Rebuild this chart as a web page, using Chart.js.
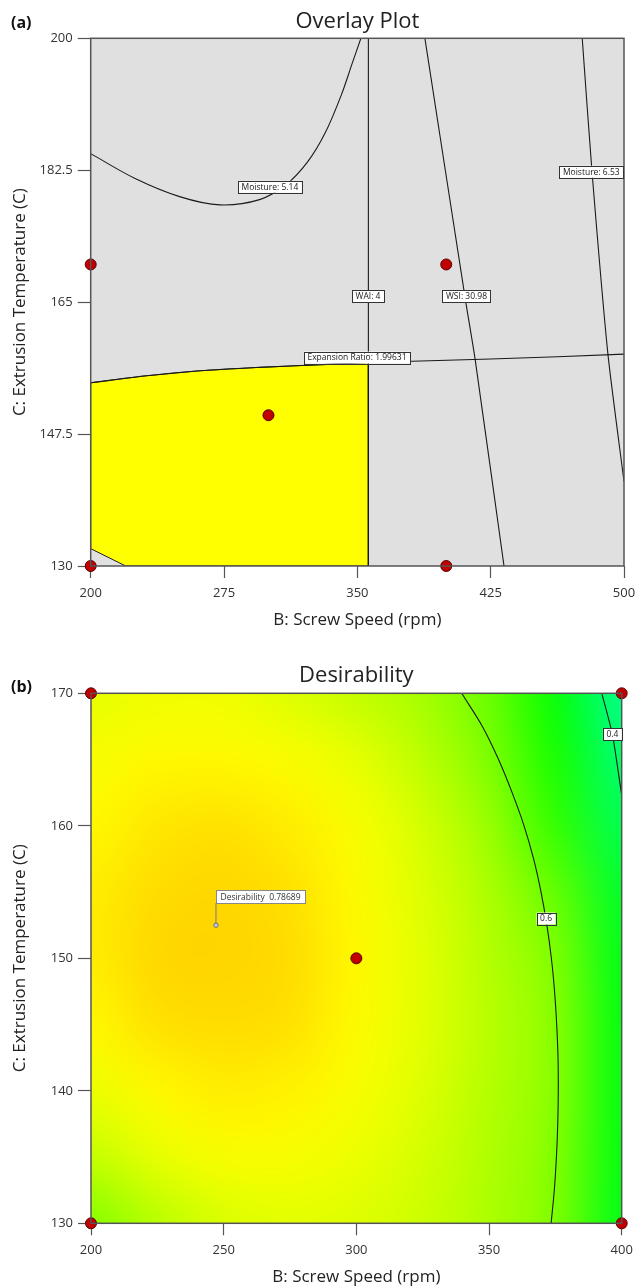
<!DOCTYPE html>
<html>
<head>
<meta charset="utf-8">
<script src="https://cdn.jsdelivr.net/npm/chart.js@4.4.1/dist/chart.umd.min.js"></script>
<style>
    body { margin: 0; background: #fff; width: 636px; height: 1287px; position: relative; overflow: hidden; }
    .panel { position: absolute; left: 0; width: 636px; }
    #overlayWrap { top: 0; height: 630px; }
    #desireWrap { top: 630px; height: 657px; }
</style>
</head>
<body>
<div class="panel" id="overlayWrap"><canvas id="overlayChart" width="636" height="630"></canvas></div>
<div class="panel" id="desireWrap"><canvas id="desireChart" width="636" height="657"></canvas></div>
<script>
// ---- (a) Overlay plot data ----
const overlayXTicks = [200, 275, 350, 425, 500];
const overlayYTicks = [130, 147.5, 165, 182.5, 200];
const designPointsA = [
    { x: 200, y: 170 }, { x: 400, y: 170 }, { x: 300, y: 150 }, { x: 200, y: 130 }, { x: 400, y: 130 }
];
const moisture514 = [
    { x: 200, y: 184.7 }, { x: 225, y: 181.4 }, { x: 250, y: 179.0 }, { x: 272.7, y: 177.9 },
    { x: 295, y: 178.6 }, { x: 310, y: 180.6 }, { x: 322, y: 183.6 }, { x: 332, y: 187.5 },
    { x: 341, y: 192.5 }, { x: 347, y: 196.6 }, { x: 352, y: 200 }
];
const moisture653 = [
    { x: 476.5, y: 200 }, { x: 482, y: 182.3 }, { x: 491, y: 158 }, { x: 500, y: 141.2 }
];
const wai4 = [{ x: 356.2, y: 200 }, { x: 356.2, y: 130 }];
const wsi3098 = [
    { x: 388, y: 200 }, { x: 411, y: 165 }, { x: 416.2, y: 157.5 }, { x: 432.5, y: 130 }
];
const expansionRatio = [
    { x: 200, y: 154.3 }, { x: 230, y: 155.2 }, { x: 261.6, y: 155.9 }, { x: 295, y: 156.35 },
    { x: 329, y: 156.7 }, { x: 356.2, y: 157.0 }, { x: 425, y: 157.45 }, { x: 500, y: 158.1 }
];
const sweetSpot = [
    { x: 200, y: 154.3 }, { x: 230, y: 155.2 }, { x: 261.6, y: 155.9 }, { x: 295, y: 156.35 },
    { x: 329, y: 156.7 }, { x: 356.2, y: 157.0 }, { x: 356.2, y: 130 }, { x: 219.7, y: 130 },
    { x: 200, y: 132.3 }, { x: 200, y: 154.3 }
];
const overlayLabels = [
    { text: 'Moisture: 5.14', x: 300.8, y: 180.3 },
    { text: 'Moisture: 6.53', x: 481.6, y: 182.3 },
    { text: 'WAI: 4', x: 356.0, y: 165.8 },
    { text: 'WSI: 30.98', x: 411.4, y: 165.8 },
    { text: 'Expansion Ratio: 1.99631', x: 349.8, y: 157.65 }
];

// ---- (b) Desirability data ----
const desireXTicks = [200, 250, 300, 350, 400];
const desireYTicks = [130, 140, 150, 160, 170];
const designPointsB = [
    { x: 200, y: 170 }, { x: 400, y: 170 }, { x: 300, y: 150 }, { x: 200, y: 130 }, { x: 400, y: 130 }
];
const heatX = [200, 225, 250, 275, 300, 325, 350, 375, 400];
const heatY = [170, 165, 160, 155, 150, 145, 140, 135, 130];
const desirabilityGrid = [
    [0.72, 0.73, 0.73, 0.71, 0.68, 0.64, 0.58, 0.50, 0.36],
    [0.74, 0.755, 0.755, 0.745, 0.72, 0.67, 0.594, 0.52, 0.39],
    [0.755, 0.77, 0.775, 0.765, 0.74, 0.70, 0.625, 0.54, 0.42],
    [0.765, 0.78, 0.785, 0.775, 0.75, 0.71, 0.65, 0.575, 0.46],
    [0.765, 0.785, 0.787, 0.78, 0.755, 0.715, 0.66, 0.595, 0.48],
    [0.755, 0.775, 0.78, 0.775, 0.75, 0.715, 0.665, 0.603, 0.49],
    [0.725, 0.755, 0.765, 0.76, 0.74, 0.71, 0.66, 0.602, 0.49],
    [0.68, 0.72, 0.74, 0.74, 0.725, 0.70, 0.655, 0.597, 0.49],
    [0.60, 0.665, 0.705, 0.715, 0.71, 0.69, 0.65, 0.595, 0.48]
];
const contour06 = [
    { x: 339.7, y: 170 }, { x: 347.5, y: 167.5 }, { x: 353.6, y: 165 }, { x: 358.7, y: 162.5 },
    { x: 363.2, y: 160 }, { x: 366.8, y: 157.5 }, { x: 369.6, y: 155 }, { x: 371.8, y: 152.5 },
    { x: 373.5, y: 150 }, { x: 374.7, y: 147.5 }, { x: 375.5, y: 145 }, { x: 376.0, y: 142.5 },
    { x: 376.1, y: 140 }, { x: 375.9, y: 137.5 }, { x: 375.4, y: 135 }, { x: 374.6, y: 132.5 },
    { x: 373.4, y: 130 }
];
const contour04 = [{ x: 392.5, y: 170 }, { x: 396.5, y: 166.9 }, { x: 400, y: 162.3 }];
const desireLabels = [
    { text: '0.6', x: 371.5, y: 153.0 },
    { text: '0.4', x: 396.5, y: 166.9 }
];
const optimumPoint = { x: 247.1, y: 152.5, text: 'Desirability  0.78689' };

// colour ramp used by the desirability surface
const colorStops = [
    [0.34, [0, 255, 160]], [0.40, [0, 255, 100]], [0.48, [0, 255, 24]], [0.51, [10, 255, 0]],
    [0.55, [64, 255, 0]], [0.60, [134, 255, 0]], [0.66, [180, 255, 0]], [0.70, [212, 255, 0]],
    [0.735, [245, 255, 0]], [0.755, [255, 248, 0]], [0.775, [255, 225, 0]], [0.79, [255, 210, 0]]
];

const FONT = "'Open Sans', 'Noto Sans', sans-serif";
const AXIS_COLOR = '#555';

function rampColor(v) {
    if (v <= colorStops[0][0]) return colorStops[0][1];
    for (let i = 1; i < colorStops.length; i++) {
        if (v <= colorStops[i][0]) {
            const [v0, c0] = colorStops[i - 1];
            const [v1, c1] = colorStops[i];
            const t = (v - v0) / (v1 - v0);
            return c0.map((c, k) => Math.round(c + (c1[k] - c) * t));
        }
    }
    return colorStops[colorStops.length - 1][1];
}

function drawTag(ctx, text, cx, cy) {
    ctx.save();
    ctx.font = '8.5px ' + FONT;
    const w = ctx.measureText(text).width + 7;
    const h = 12;
    ctx.fillStyle = '#fff';
    ctx.fillRect(cx - w / 2, cy - h / 2, w, h);
    ctx.strokeStyle = '#333';
    ctx.lineWidth = 1;
    ctx.strokeRect(Math.round(cx - w / 2) + 0.5, Math.round(cy - h / 2) + 0.5, Math.round(w), h);
    ctx.fillStyle = '#1a1a1a';
    ctx.textAlign = 'center';
    ctx.textBaseline = 'middle';
    ctx.fillText(text, cx, cy + 0.5);
    ctx.restore();
}

// Titles, frame, background and labels
const panelDecor = {
    id: 'panelDecor',
    beforeDatasetsDraw(chart, args, opts) {
        const { ctx, chartArea: a, scales } = chart;
        ctx.save();
        if (opts.heat) {
            const off = document.createElement('canvas');
            off.width = heatX.length;
            off.height = heatY.length;
            const octx = off.getContext('2d');
            const img = octx.createImageData(off.width, off.height);
            desirabilityGrid.forEach((row, j) => {
                row.forEach((v, i) => {
                    const c = rampColor(v);
                    const p = (j * off.width + i) * 4;
                    img.data[p] = c[0]; img.data[p + 1] = c[1]; img.data[p + 2] = c[2]; img.data[p + 3] = 255;
                });
            });
            octx.putImageData(img, 0, 0);
            const x0 = scales.x.getPixelForValue(heatX[0]);
            const x1 = scales.x.getPixelForValue(heatX[heatX.length - 1]);
            const y0 = scales.y.getPixelForValue(heatY[0]);
            const y1 = scales.y.getPixelForValue(heatY[heatY.length - 1]);
            const cw = (x1 - x0) / (heatX.length - 1);
            const ch = (y1 - y0) / (heatY.length - 1);
            ctx.beginPath();
            ctx.rect(a.left, a.top, a.right - a.left, a.bottom - a.top);
            ctx.clip();
            ctx.imageSmoothingEnabled = true;
            ctx.imageSmoothingQuality = 'high';
            ctx.drawImage(off, x0 - cw / 2, y0 - ch / 2, cw * heatX.length, ch * heatY.length);
        } else {
            ctx.fillStyle = '#e0e0e0';
            ctx.fillRect(a.left, a.top, a.right - a.left, a.bottom - a.top);
        }
        ctx.restore();
    },
    afterDatasetsDraw(chart, args, opts) {
        const { ctx, chartArea: a, scales } = chart;
        ctx.save();
        ctx.strokeStyle = AXIS_COLOR;
        ctx.lineWidth = 1.5;
        ctx.strokeRect(a.left, a.top, a.right - a.left, a.bottom - a.top);
        ctx.restore();

        (opts.labels || []).forEach(l => {
            drawTag(ctx, l.text, scales.x.getPixelForValue(l.x), scales.y.getPixelForValue(l.y));
        });

        if (opts.flag) {
            const px = scales.x.getPixelForValue(opts.flag.x);
            const py = scales.y.getPixelForValue(opts.flag.y);
            ctx.save();
            ctx.strokeStyle = '#7a7a8a';
            ctx.lineWidth = 1;
            ctx.beginPath();
            ctx.moveTo(px, py);
            ctx.lineTo(px, py - 22);
            ctx.stroke();
            ctx.font = '8.5px ' + FONT;
            const w = ctx.measureText(opts.flag.text).width + 9;
            ctx.fillStyle = '#fff';
            ctx.fillRect(px, py - 35, w, 13);
            ctx.strokeStyle = '#888';
            ctx.strokeRect(Math.round(px) + 0.5, Math.round(py - 35) + 0.5, Math.round(w), 13);
            ctx.fillStyle = '#333';
            ctx.textBaseline = 'middle';
            ctx.fillText(opts.flag.text, px + 4.5, py - 28);
            ctx.beginPath();
            ctx.arc(px, py, 2.2, 0, Math.PI * 2);
            ctx.fillStyle = '#c8c8d8';
            ctx.fill();
            ctx.strokeStyle = '#6a6a8a';
            ctx.stroke();
            ctx.restore();
        }

        ctx.save();
        ctx.fillStyle = '#222';
        ctx.font = '22px ' + FONT;
        ctx.textAlign = 'center';
        ctx.textBaseline = 'alphabetic';
        ctx.fillText(opts.title, (a.left + a.right) / 2, opts.titleY);
        ctx.font = 'bold 16px ' + FONT;
        ctx.textAlign = 'left';
        ctx.fillStyle = '#111';
        ctx.fillText(opts.letter, 11, opts.letterY);
        ctx.restore();
    }
};

function lineSet(points, tension) {
    return {
        type: 'scatter',
        data: points,
        showLine: true,
        borderColor: '#1a1a1a',
        borderWidth: 1.1,
        pointRadius: 0,
        tension: tension,
        fill: false,
        order: 5
    };
}

function pointSet(points) {
    return {
        type: 'scatter',
        data: points,
        pointRadius: 5.5,
        backgroundColor: '#c00000',
        borderColor: '#5a0000',
        borderWidth: 1,
        clip: false,
        order: 0
    };
}

function axes(xTicks, yTicks, yWidth, xHeight) {
    const tickFont = { family: FONT, size: 13 };
    const titleFont = { family: FONT, size: 17 };
    return {
        x: {
            type: 'linear',
            min: xTicks[0],
            max: xTicks[xTicks.length - 1],
            afterBuildTicks: s => { s.ticks = xTicks.map(v => ({ value: v })); },
            afterFit: s => { s.height = xHeight; s.paddingLeft = 0; s.paddingRight = 0; },
            grid: { drawOnChartArea: false, color: AXIS_COLOR, tickLength: 12, tickWidth: 1.2 },
            border: { display: false },
            ticks: { font: tickFont, color: '#333', padding: 7, maxRotation: 0, callback: v => String(v) },
            title: { display: true, text: 'B: Screw Speed (rpm)', font: titleFont, color: '#222', padding: { top: 0, bottom: 0 } }
        },
        y: {
            type: 'linear',
            min: yTicks[0],
            max: yTicks[yTicks.length - 1],
            afterBuildTicks: s => { s.ticks = yTicks.map(v => ({ value: v })); },
            afterFit: s => { s.width = yWidth; s.paddingTop = 0; s.paddingBottom = 0; },
            grid: { drawOnChartArea: false, color: AXIS_COLOR, tickLength: 13, tickWidth: 1.2 },
            border: { display: false },
            ticks: { font: tickFont, color: '#333', padding: 5, callback: v => String(v) },
            title: { display: true, text: 'C: Extrusion Temperature (C)', font: titleFont, color: '#222', padding: { top: 9.8, bottom: 0 } }
        }
    };
}

const overlayChart = new Chart(document.getElementById('overlayChart'), {
    type: 'scatter',
    data: {
        datasets: [
            {
                type: 'scatter',
                data: sweetSpot,
                showLine: true,
                borderColor: '#222',
                borderWidth: 1,
                backgroundColor: '#ffff00',
                pointRadius: 0,
                tension: 0,
                fill: 'shape',
                order: 10
            },
            lineSet(moisture514, 0.35),
            lineSet(moisture653, 0.2),
            lineSet(wai4, 0),
            lineSet(wsi3098, 0.2),
            lineSet(expansionRatio, 0.3),
            pointSet(designPointsA)
        ]
    },
    options: {
        responsive: false,
        animation: false,
        layout: { padding: { top: 38.3, right: 12, left: 0, bottom: 0 } },
        scales: axes(overlayXTicks, overlayYTicks, 90.7, 64),
        plugins: {
            legend: { display: false },
            tooltip: { enabled: false },
            panelDecor: { title: 'Overlay Plot', titleY: 28, letter: '(a)', letterY: 28, labels: overlayLabels }
        }
    },
    plugins: [panelDecor]
});

const desireChart = new Chart(document.getElementById('desireChart'), {
    type: 'scatter',
    data: {
        datasets: [
            lineSet(contour06, 0.3),
            lineSet(contour04, 0.2),
            pointSet(designPointsB)
        ]
    },
    options: {
        responsive: false,
        animation: false,
        layout: { padding: { top: 63.3, right: 14.3, left: 0, bottom: 0 } },
        scales: axes(desireXTicks, desireYTicks, 91, 63.7),
        plugins: {
            legend: { display: false },
            tooltip: { enabled: false },
            panelDecor: {
                title: 'Desirability', titleY: 52, letter: '(b)', letterY: 62,
                labels: desireLabels, flag: optimumPoint, heat: true
            }
        }
    },
    plugins: [panelDecor]
});
</script>
</body>
</html>
